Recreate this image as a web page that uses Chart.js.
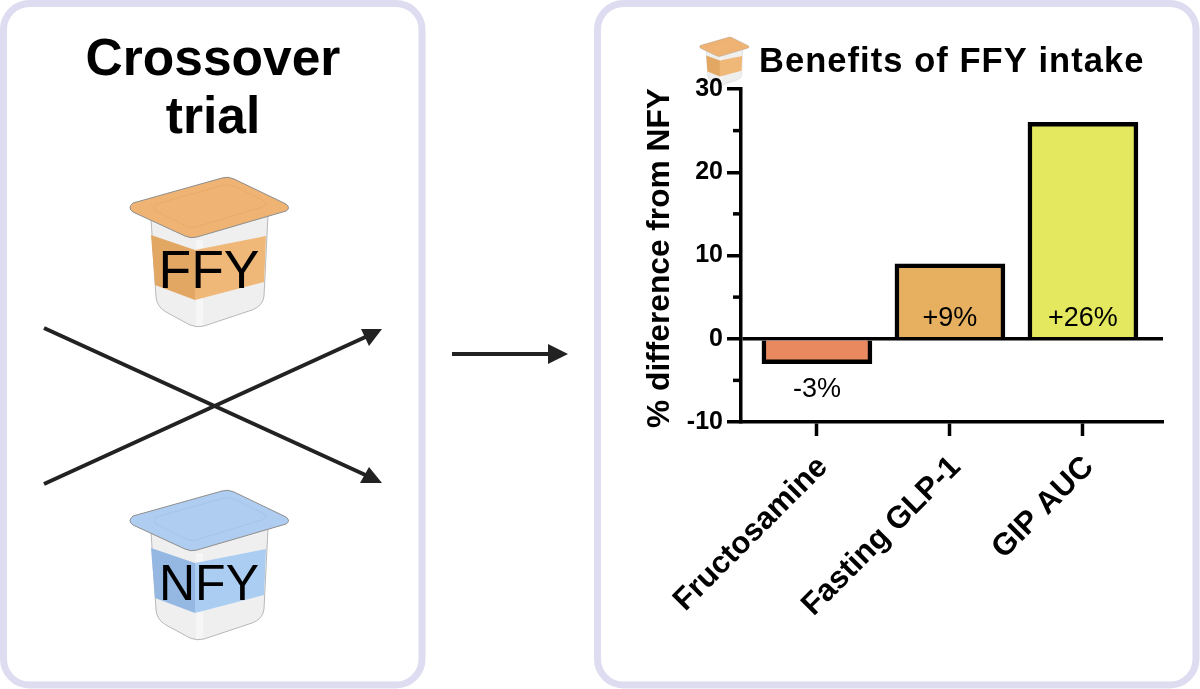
<!DOCTYPE html>
<html>
<head>
<meta charset="utf-8">
<style>
  html, body { margin: 0; padding: 0; background: #fff; }
  canvas { display: block; }
</style>
<script src="https://cdn.jsdelivr.net/npm/chart.js@4"></script>
</head>
<body>
<canvas id="chart" width="1200" height="689" style="width:1200px;height:689px"></canvas>
<script>
const categories = ['Fructosamine', 'Fasting GLP-1', 'GIP AUC'];
const values = [-3, 9, 26];
const valueLabels = ['-3%', '+9%', '+26%'];
const barColors = ['#E8895F', '#E6B060', '#E3E85F'];
const minorTicks = [-5, 5, 15, 25];

const FONT = '"Liberation Sans", Arial, sans-serif';
const INK = '#000';

function roundedPanel(ctx, x, y, w, h) {
  ctx.save();
  ctx.strokeStyle = '#DEDCF0';
  ctx.lineWidth = 7;
  ctx.beginPath();
  ctx.roundRect(x, y, w, h, 26);
  ctx.stroke();
  ctx.restore();
}

function poly(ctx, pts, fill) {
  ctx.beginPath();
  pts.forEach((p, i) => i ? ctx.lineTo(p[0], p[1]) : ctx.moveTo(p[0], p[1]));
  ctx.closePath();
  if (fill) { ctx.fillStyle = fill; ctx.fill(); }
}

// yogurt pot, drawn in the coordinates of the big FFY one and then moved
function drawPot(ctx, dx, dy, kx, ky, lid, lidEdge, bandDark, bandLight) {
  ctx.save();
  ctx.translate(dx, dy);
  ctx.scale(kx, ky);

  // body
  ctx.beginPath();
  ctx.moveTo(151, 219);
  ctx.lineTo(268, 215);
  ctx.lineTo(264, 296);
  ctx.quadraticCurveTo(263, 306, 252, 310);
  ctx.lineTo(204, 326);
  ctx.quadraticCurveTo(197, 328, 190, 325);
  ctx.lineTo(166, 312);
  ctx.quadraticCurveTo(157, 307, 156, 297);
  ctx.closePath();
  ctx.fillStyle = '#EFEFEF';
  ctx.fill();
  ctx.strokeStyle = '#B9B9B9';
  ctx.lineWidth = 1;
  ctx.stroke();

  // lighter centre of the body
  poly(ctx, [[196, 240], [203, 240], [203, 325], [196, 326]], '#F6F6F6');

  // band, two faces
  poly(ctx, [[151, 235], [195, 250], [195, 300], [155, 285]], bandDark);
  poly(ctx, [[195, 250], [266, 236], [264, 282], [195, 300]], bandLight);

  // lid
  ctx.beginPath();
  ctx.moveTo(133, 203);
  ctx.lineTo(222, 178);
  ctx.quadraticCurveTo(228, 176, 234, 179);
  ctx.lineTo(286, 204);
  ctx.quadraticCurveTo(291, 208, 286, 211);
  ctx.lineTo(197, 237);
  ctx.quadraticCurveTo(191, 239, 185, 236);
  ctx.lineTo(133, 212);
  ctx.quadraticCurveTo(127, 208, 133, 203);
  ctx.closePath();
  ctx.fillStyle = lid;
  ctx.fill();
  ctx.strokeStyle = '#8E8E8E';
  ctx.lineWidth = 1;
  ctx.stroke();

  // rim on the lid
  ctx.beginPath();
  ctx.moveTo(156, 204);
  ctx.lineTo(224, 185);
  ctx.quadraticCurveTo(230, 184, 236, 187);
  ctx.lineTo(264, 201);
  ctx.quadraticCurveTo(268, 205, 262, 207);
  ctx.lineTo(196, 227);
  ctx.quadraticCurveTo(191, 228, 186, 226);
  ctx.lineTo(156, 211);
  ctx.quadraticCurveTo(152, 207, 156, 204);
  ctx.closePath();
  ctx.strokeStyle = lidEdge;
  ctx.lineWidth = 1;
  ctx.stroke();
  ctx.restore();
}

function drawArrow(ctx, tail, neck, head) {
  ctx.save();
  ctx.strokeStyle = '#222';
  ctx.lineWidth = 4;
  ctx.beginPath();
  ctx.moveTo(tail[0], tail[1]);
  ctx.lineTo(neck[0], neck[1]);
  ctx.stroke();
  poly(ctx, head, '#222');
  ctx.restore();
}

function text(ctx, str, x, y, font, align, spacing) {
  ctx.save();
  ctx.font = font;
  ctx.fillStyle = INK;
  ctx.textAlign = align || 'center';
  ctx.textBaseline = 'alphabetic';
  if (spacing) ctx.letterSpacing = spacing;
  ctx.fillText(str, x, y);
  ctx.restore();
}

const artwork = {
  id: 'artwork',
  beforeDraw(chart) {
    const ctx = chart.ctx;
    ctx.save();
    ctx.fillStyle = '#fff';
    ctx.fillRect(0, 0, chart.width, chart.height);
    ctx.restore();

    roundedPanel(ctx, 3.5, 3.5, 418.5, 681.5);
    roundedPanel(ctx, 597.5, 3.5, 598.5, 681.5);

    text(ctx, 'Crossover', 213, 75, 'bold 51.5px ' + FONT);
    text(ctx, 'trial', 213, 133, 'bold 51.5px ' + FONT);

    drawPot(ctx, 0, 0, 1, 1, '#EFB373', '#E9AC69', '#E2A762', '#F0B878');
    text(ctx, 'FFY', 209, 288, '53.5px ' + FONT);

    drawPot(ctx, 0, 313, 1, 1, '#AFCDF0', '#A5C4EA', '#94B8E2', '#ABCDF2');
    text(ctx, 'NFY', 209, 600, '50px ' + FONT);

    // the two crossing arrows, then the one between the panels
    drawArrow(ctx, [44, 328], [372, 478], [[382, 483], [360, 483], [369, 467]]);
    drawArrow(ctx, [44, 484], [372, 334], [[382, 329], [361, 329], [369, 346]]);
    drawArrow(ctx, [452, 354], [552, 354], [[568, 354], [548, 344], [548, 364]]);

    // title, with its small pot
    drawPot(ctx, 659, -19.6, 0.3125, 0.32, '#EFB373', '#E9AC69', '#E2A762', '#F0B878');
    text(ctx, 'Benefits of FFY intake', 759, 72, 'bold 34.5px ' + FONT, 'left', '1.05px');

    // y axis title
    ctx.save();
    ctx.translate(669, 258);
    ctx.rotate(-Math.PI / 2);
    text(ctx, '% difference from NFY', 0, 0, 'bold 31.7px ' + FONT);
    ctx.restore();
  },
  afterDatasetsDraw(chart) {
    const ctx = chart.ctx;
    const y = chart.scales.y;
    // y minor ticks
    ctx.save();
    ctx.strokeStyle = INK;
    ctx.lineWidth = 3.5;
    minorTicks.forEach(v => {
      const py = y.getPixelForValue(v);
      ctx.beginPath();
      ctx.moveTo(y.right - 8, py);
      ctx.lineTo(y.right, py);
      ctx.stroke();
    });
    ctx.restore();

    // value labels
    chart.getDatasetMeta(0).data.forEach((bar, i) => {
      const py = values[i] < 0 ? bar.y + 33 : bar.base - 11;
      text(ctx, valueLabels[i], bar.x, py, '27px ' + FONT);
    });
  }
};

new Chart(document.getElementById('chart'), {
  type: 'bar',
  data: {
    datasets: [{
      data: values.map((v, i) => ({ x: i, y: v })),
      backgroundColor: barColors,
      borderColor: INK,
      borderWidth: 4.5,
      borderSkipped: 'start',
      barThickness: 110
    }]
  },
  plugins: [artwork],
  options: {
    responsive: false,
    animation: false,
    layout: { padding: { left: 640, top: 89, right: 37, bottom: 67 } },
    plugins: { legend: { display: false }, tooltip: { enabled: false } },
    scales: {
      x: {
        type: 'linear',
        offset: false,
        min: -0.571,
        max: 2.602,
        afterFit: s => { s.height = 200; },
        afterBuildTicks: s => { s.ticks = categories.map((c, i) => ({ value: i })); },
        border: { color: INK, width: 3.5 },
        grid: { offset: false, drawOnChartArea: false, tickLength: 14, tickColor: INK, tickWidth: 3.5 },
        ticks: {
          color: INK,
          autoSkip: false,
          minRotation: 45,
          maxRotation: 45,
          padding: 13,
          labelOffset: 6,
          font: { family: FONT, size: 31, weight: 'bold' },
          callback: v => categories[v]
        }
      },
      y: {
        min: -10,
        max: 30,
        afterFit: s => { s.width = 101; },
        border: { color: INK, width: 3.5 },
        grid: {
          tickLength: 14,
          tickColor: INK,
          tickWidth: 3.5,
          lineWidth: 3.5,
          color: c => c.tick && c.tick.value === 0 ? INK : 'transparent'
        },
        ticks: {
          stepSize: 10,
          color: INK,
          padding: 4,
          font: { family: FONT, size: 25, weight: 'bold' }
        }
      }
    }
  }
});
</script>
</body>
</html>
